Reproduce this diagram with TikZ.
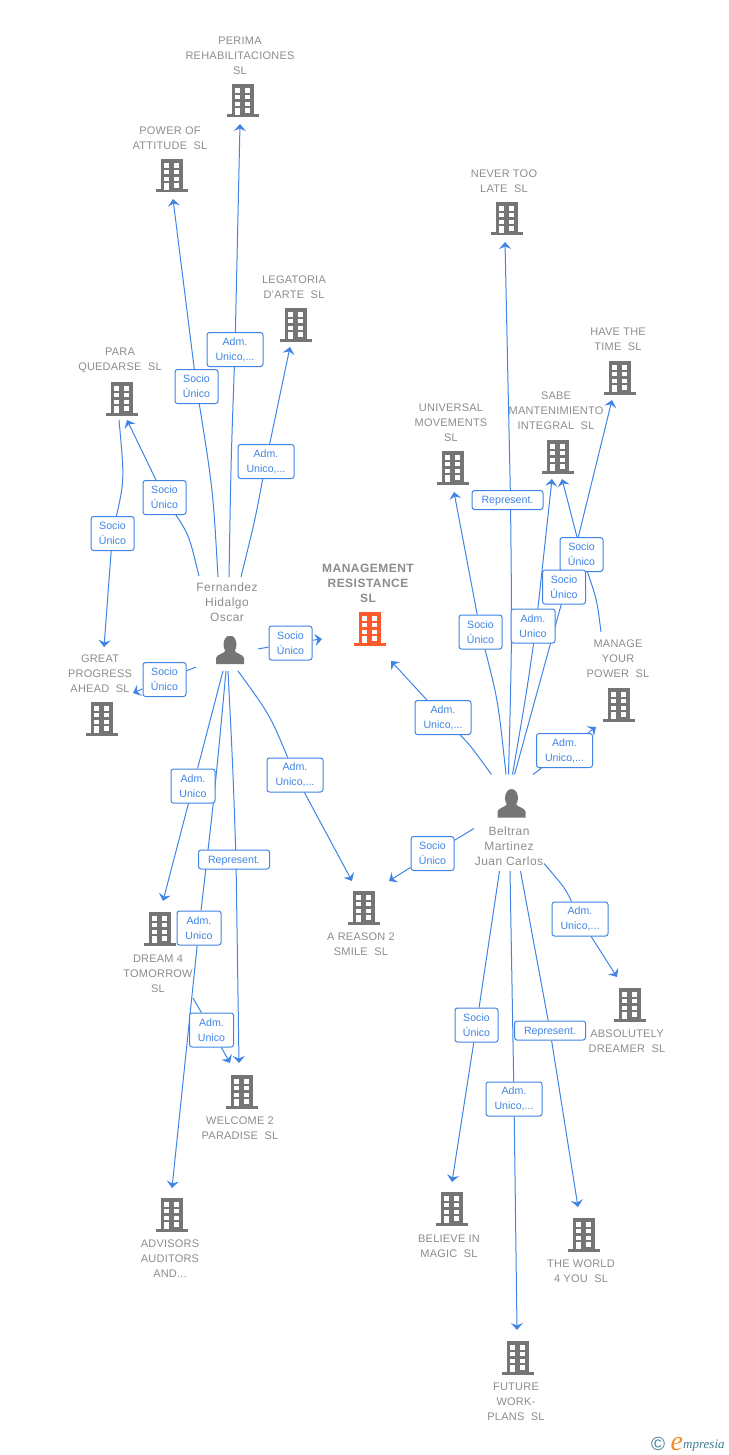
\documentclass[tikz,border=0pt]{standalone}
\usepackage{fontspec}
\setmainfont{Liberation Sans}
\newfontfamily\logofont{Liberation Serif}
\usetikzlibrary{arrows.meta,calc,backgrounds}
\definecolor{linkblue}{HTML}{3F84E5}
\definecolor{iconrey}{HTML}{757575}
\definecolor{txtgrey}{HTML}{8C8C8C}
\definecolor{mgmtred}{HTML}{FF5A2B}
\definecolor{logoteal}{HTML}{3E7C91}
\definecolor{logoorange}{HTML}{F28C28}
\newcommand{\bldicon}[1]{%
  \begin{scope}[shift={(path picture bounding box.center)}]
    \fill[#1] (-11,-17) rectangle (11,15);
    \fill[#1] (-16,13.5) rectangle (16,16.5);
    \foreach \ya/\yb in {-12.7/-8.3,-6/-1.7,0.7/5}{
      \fill[white] (-8,\ya) rectangle (-3,\yb);
      \fill[white] (2,\ya) rectangle (7,\yb);
    }
    \fill[white] (-8,7.3) rectangle (-3,14);
    \fill[white] (2,7.3) rectangle (7,11.7);
  \end{scope}}
\newcommand{\personicon}{%
  \begin{scope}[shift={(path picture bounding box.center)}]
    \fill[iconrey] (0,-5.5) ellipse (6.5 and 9);
    \fill[iconrey] (-14,14) -- (-14,8) .. controls (-13,4) and (-6,4) .. (-4,0) -- (4,0)
      .. controls (6,4) and (13,4) .. (14,8) -- (14,14) -- cycle;
  \end{scope}}
\tikzset{
  bld/.style={minimum width=32pt,minimum height=34pt,inner sep=0pt,outer sep=0pt,
    path picture={\bldicon{#1}}},
  bld/.default=iconrey,
  prs/.style={minimum width=28pt,minimum height=28pt,inner sep=0pt,outer sep=0pt,
    path picture={\personicon}},
  captxt/.style={align=center,inner sep=0pt,text=txtgrey,yshift=-1pt,
    font=\fontsize{11}{15}\selectfont\addfontfeature{LetterSpace=2}},
  captxtb/.style={align=center,inner sep=0pt,text=txtgrey,yshift=-0.5pt,
    font=\fontsize{12}{15}\selectfont\bfseries\addfontfeature{LetterSpace=4}},
  captxtp/.style={align=center,inner sep=0pt,text=txtgrey,yshift=-0.5pt,
    font=\fontsize{12}{15}\selectfont\addfontfeature{LetterSpace=4}},
  lbl/.style={draw=linkblue,line width=1pt,fill=white,rounded corners=2.5pt,align=center,
    inner sep=0pt,text=linkblue,font=\fontsize{10.6}{15}\selectfont,minimum height=34pt,
    execute at begin node={\rule{0pt}{9.5pt}}},
  lblsu/.style={lbl,minimum width=43pt},
  lblau/.style={lbl,minimum width=44pt},
  lblal/.style={lbl,minimum width=56pt},
  lblre/.style={lbl,minimum width=71pt,minimum height=19pt},
  conn/.style={draw=linkblue,line width=1pt,line join=round,
    -{Stealth[length=7pt,width=12pt,inset=2.5pt]}},
}
\begin{document}
\begin{tikzpicture}[x=1pt,y=-1pt]
\useasboundingbox (0,0) rectangle (728,1455);
% buildings
\node[bld] (perima) at (243,101) {};
\node[bld] (power) at (172,176) {};
\node[bld] (legatoria) at (296,325) {};
\node[bld] (para) at (122,399) {};
\node[bld] (great) at (102,719) {};
\node[bld=mgmtred] (mgmt) at (370,629) {};
\node[bld] (never) at (507,219) {};
\node[bld] (have) at (620,378) {};
\node[bld] (sabe) at (558,457) {};
\node[bld] (universal) at (453,468) {};
\node[bld] (manage) at (619,705) {};
\node[bld] (reason) at (364,908) {};
\node[bld] (absolutely) at (630,1005) {};
\node[bld] (dream) at (160,929) {};
\node[bld] (welcome) at (242,1092) {};
\node[bld] (advisors) at (172,1215) {};
\node[bld] (believe) at (452,1209) {};
\node[bld] (world) at (584,1235) {};
\node[bld] (future) at (518,1358) {};
% persons
\node[prs] (fh) at (230,650) {};
\node[prs] (bm) at (511.5,803.5) {};
% captions
\node[captxt] (tperima) at (240,55) {PERIMA\\REHABILITACIONES\\SL};
\node[captxt] (tpower) at (170,137.5) {POWER OF\\ATTITUDE~~SL};
\node[captxt] (tlegatoria) at (294,286.5) {LEGATORIA\\D'ARTE~~SL};
\node[captxt] (tpara) at (120,359.5) {PARA\\QUEDARSE~~SL};
\node[captxt] (tgreat) at (100,673) {GREAT\\PROGRESS\\AHEAD~~SL};
\node[captxtb] (tmgmt) at (368,583) {MANAGEMENT\\RESISTANCE\\SL};
\node[captxt] (tnever) at (504,180.5) {NEVER TOO\\LATE~~SL};
\node[captxt] (thave) at (618,338.5) {HAVE THE\\TIME~~SL};
\node[captxt] (tsabe) at (556,410) {SABE\\MANTENIMIENTO\\INTEGRAL~~SL};
\node[captxt] (tuniversal) at (451,422) {UNIVERSAL\\MOVEMENTS\\SL};
\node[captxt] (tmanage) at (618,658) {MANAGE\\YOUR\\POWER~~SL};
\node[captxt] (treason) at (361,943.5) {A REASON 2\\SMILE~~SL};
\node[captxt] (tabsolutely) at (627,1040.5) {ABSOLUTELY\\DREAMER~~SL};
\node[captxt] (tdream) at (158,973) {DREAM 4\\TOMORROW\\SL};
\node[captxt] (twelcome) at (240,1127.5) {WELCOME 2\\PARADISE~~SL};
\node[captxt] (tadvisors) at (170,1258) {ADVISORS\\AUDITORS\\AND...};
\node[captxt] (tbelieve) at (449,1245.5) {BELIEVE IN\\MAGIC~~SL};
\node[captxt] (tworld) at (581,1270.5) {THE WORLD\\4 YOU~~SL};
\node[captxt] (tfuture) at (516,1401) {FUTURE\\WORK-\\PLANS~~SL};
\node[captxtp] (tfh) at (227,602) {Fernandez\\Hidalgo\\Oscar};
\node[captxtp] (tbm) at (509,846) {Beltran\\Martinez\\Juan Carlos};
% edge labels
\node[lblal] (l1) at (235,349.5) {Adm.\\Unico,...};
\node[lblsu] (l2) at (196.5,386.5) {Socio\\Único};
\node[lblal] (l3) at (266,461.5) {Adm.\\Unico,...};
\node[lblsu] (l4) at (164.5,497.5) {Socio\\Único};
\node[lblsu] (l5) at (112.5,533.5) {Socio\\Único};
\node[lblsu] (l6) at (290.5,643) {Socio\\Único};
\node[lblsu] (l7) at (164.5,679.5) {Socio\\Único};
\node[lblau] (l8) at (193,786) {Adm.\\Unico};
\node[lblal] (l9) at (295,775) {Adm.\\Unico,...};
\node[lblre] (l10) at (234,859.5) {Represent.};
\node[lblau] (l11) at (199,928) {Adm.\\Unico};
\node[lblau] (l12) at (211.5,1030) {Adm.\\Unico};
\node[lblal] (l13) at (443,717.5) {Adm.\\Unico,...};
\node[lblal] (l14) at (564.5,750.5) {Adm.\\Unico,...};
\node[lblsu] (l15) at (432.5,853.5) {Socio\\Único};
\node[lblre] (l16) at (507.5,500) {Represent.};
\node[lblsu] (l17) at (480.5,632) {Socio\\Único};
\node[lblau] (l18) at (533,626) {Adm.\\Unico};
\node[lblsu] (l19) at (581.5,554.5) {Socio\\Único};
\node[lblsu] (l20) at (564,587) {Socio\\Único};
\node[lblal] (l21) at (580,919) {Adm.\\Unico,...};
\node[lblsu] (l22) at (476.5,1025) {Socio\\Único};
\node[lblre] (l23) at (550,1030.5) {Represent.};
\node[lblal] (l24) at (514,1099) {Adm.\\Unico,...};
% logo
\node[inner sep=0pt,text=logoteal,font=\fontsize{19}{19}\selectfont] (logoc) at (658,1444) {©};
\node[inner sep=0pt,anchor=base west,text=logoorange,font=\logofont\itshape\fontsize{28}{28}\selectfont] (logoe) at (670.5,1450) {e};
\node[inner sep=0pt,anchor=base west,text=logoteal,font=\logofont\itshape\fontsize{13}{13}\selectfont] (logom) at (683,1448) {mpresia};
% connectors
\begin{scope}[on background layer]
\draw[conn] ($(fh)+(-31,-74)$) .. controls (189,535) .. (l4) -- ($(para)+(5,21)$);
\draw[conn] ($(para)+(-3,21)$) .. controls (124.5,480) .. (l5) -- ($(great)+(2,-72)$);
\draw[conn] ($(fh)+(-12,-73)$) .. controls (213,490) .. (l2) -- ($(power)+(1,23)$);
\draw[conn] ($(fh)+(-1,-73)$) .. controls (231,460) .. (l1) -- ($(perima)+(-3,23)$);
\draw[conn] ($(fh)+(11,-73)$) .. controls (255,520) .. (l3) -- ($(legatoria)+(-6,22)$);
\draw[conn] ($(fh)+(28,-1)$) -- (l6) -- ($(mgmt)+(-48,10)$);
\draw[conn] ($(fh)+(-34,17)$) -- (l7) -- ($(great)+(31,-26)$);
\draw[conn] ($(fh)+(-7,21)$) -- (l8) -- ($(dream)+(3,-28)$);
\draw[conn] ($(fh)+(-4,21)$) .. controls (215,790) .. (l11) -- ($(advisors)+(0,-27)$);
\draw[conn] ($(fh)+(-2,21)$) .. controls (233,770) .. ($(l10)+(2,0)$) -- ($(welcome)+(-3,-29)$);
\draw[conn] ($(fh)+(8,21)$) .. controls (270,715) .. (l9) -- ($(reason)+(-12,-27)$);
\draw[conn] ($(dream)+(33,69)$) -- (l12) -- ($(welcome)+(-12,-29)$);
\draw[conn] ($(bm)+(-20,-29)$) .. controls (470,745) .. (l13) -- ($(mgmt)+(21,32)$);
\draw[conn] ($(bm)+(-5.5,-29)$) .. controls (498,700) .. (l17) -- ($(universal)+(1,24)$);
\draw[conn] ($(bm)+(-3,-29)$) .. controls (512,640) .. ($(l16)+(3,0)$) -- ($(never)+(-2,23)$);
\draw[conn] ($(bm)+(1,-29)$) .. controls (527,690) .. ($(l18)+(3,0)$) -- ($(sabe)+(-6,22)$);
\draw[conn] ($(bm)+(3,-29)$) -- ($(l20)+(2,0)$) -- ($(have)+(-8,22)$);
\draw[conn] ($(manage)+(-18,-73)$) .. controls (597,600) .. (l19) -- ($(sabe)+(4,22)$);
\draw[conn] ($(bm)+(21.5,-29)$) -- (l14) -- ($(manage)+(-23,22)$);
\draw[conn] ($(bm)+(-37.5,25)$) -- (l15) -- ($(reason)+(25,-27)$);
\draw[conn] ($(bm)+(-12,67.5)$) -- (l22) -- ($(believe)+(0,-27)$);
\draw[conn] ($(bm)+(-1.5,67.5)$) -- (l24) -- ($(future)+(-1,-28)$);
\draw[conn] ($(bm)+(9,67.5)$) -- (l23) -- ($(world)+(-6,-28)$);
\draw[conn] ($(bm)+(32.5,60)$) .. controls (565,888) .. (l21) -- ($(absolutely)+(-13,-28)$);
\end{scope}
\end{tikzpicture}
\end{document}
